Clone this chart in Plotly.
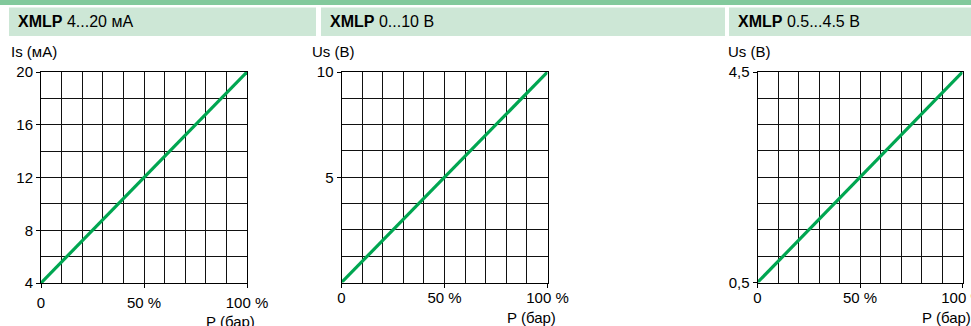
import plotly.graph_objects as go

# pressure range, % of full scale
pressure_pct = [0, 100]
# output signals for each sensor variant
current_ma = [4, 20]
voltage_0_10 = [0, 10]
voltage_05_45 = [0.5, 4.5]

panel_titles = ["4...20 мА", "0...10 В", "0.5...4.5 В"]
y_titles = ["Is (мА)", "Us (В)", "Us (В)"]
x_tickvals = [0, 50, 100]
x_ticktext = ["0", "50 %", "100 %"]

W, H = 971, 326
GREEN = "#00a651"
GRID = "#111111"
FONT = "Liberation Sans, Arial, sans-serif"


def px_x(v):
    return v / W


def px_y(v):
    return 1 - v / H


# plot areas in pixels: (left, right, top, bottom)
areas = [(41, 247, 72, 283), (341.5, 547.5, 72, 282.5), (757.5, 962.5, 72, 282.5)]
# header boxes: (left, right)
headers = [(9, 316), (321, 725), (729, 971)]
# the first chart has its x labels a bit lower, like the source
x_standoff = [2, -3, -3]
xlabel_y = [321, 317.5, 317.5]

y_specs = [
    dict(range=[4, 20], tickvals=[4, 8, 12, 16, 20], ticktext=["4", "8", "12", "16", "20"], tick0=4, dtick=2),
    dict(range=[0, 10], tickvals=[5, 10], ticktext=["5", "10"], tick0=0, dtick=1.25),
    dict(range=[0.5, 4.5], tickvals=[0.5, 4.5], ticktext=["0,5", "4,5"], tick0=0.5, dtick=0.5),
]
series = [current_ma, voltage_0_10, voltage_05_45]

fig = go.Figure()
layout = dict(
    template="none",
    width=W,
    height=H,
    margin=dict(l=0, r=0, t=0, b=0, pad=0),
    plot_bgcolor="white",
    paper_bgcolor="white",
    showlegend=False,
    font=dict(family=FONT, size=15, color="black"),
)

shapes = [
    dict(type="rect", xref="paper", yref="paper", x0=0, x1=1, y0=px_y(5), y1=1,
         fillcolor="#82c99c", line_width=0, layer="below"),
]
annotations = []

for i, (area, ys, spec) in enumerate(zip(areas, series, y_specs)):
    n = "" if i == 0 else str(i + 1)
    left, right, top, bottom = area
    fig.add_trace(go.Scatter(
        x=pressure_pct, y=ys, mode="lines",
        line=dict(color=GREEN, width=3.2),
        xaxis="x" + n, yaxis="y" + n, hoverinfo="skip",
    ))
    layout["xaxis" + n] = dict(
        domain=[px_x(left), px_x(right)], anchor="y" + n, range=[0, 100],
        tickvals=x_tickvals, ticktext=x_ticktext, ticks="outside", ticklen=4,
        tickcolor="black", showline=True, linecolor="black", mirror=True,
        showgrid=True, gridcolor=GRID, gridwidth=1, zeroline=False,
        minor=dict(tick0=0, dtick=10, showgrid=True, gridcolor=GRID, gridwidth=1, ticks=""),
        ticklabelstandoff=x_standoff[i], ticklabeloverflow="allow",
        automargin=False, fixedrange=True,
    )
    layout["yaxis" + n] = dict(
        domain=[px_y(bottom), px_y(top)], anchor="x" + n, range=spec["range"],
        tickvals=spec["tickvals"], ticktext=spec["ticktext"], ticks="outside", ticklen=4,
        tickcolor="black", showline=True, linecolor="black", mirror=True,
        showgrid=True, gridcolor=GRID, gridwidth=1, zeroline=False,
        minor=dict(tick0=spec["tick0"], dtick=spec["dtick"], showgrid=True,
                   gridcolor=GRID, gridwidth=1, ticks=""),
        ticklabeloverflow="allow", automargin=False, fixedrange=True,
    )

    hl, hr = headers[i]
    shapes.append(dict(type="rect", xref="paper", yref="paper", x0=px_x(hl), x1=px_x(hr),
                       y0=px_y(36), y1=px_y(7.5), fillcolor="#cde7d6", line_width=0, layer="below"))
    annotations.append(dict(
        xref="paper", yref="paper", x=px_x(hl + 7), y=px_y(21.5), xanchor="left", yanchor="middle",
        text="<b>XMLP</b> " + panel_titles[i], showarrow=False,
        font=dict(family="Liberation Sans Narrow, Arial Narrow, Liberation Sans", size=16),
    ))
    annotations.append(dict(
        xref="paper", yref="paper", x=px_x(left - 32), y=px_y(52), xanchor="left", yanchor="middle",
        text=y_titles[i], showarrow=False,
    ))
    annotations.append(dict(
        xref="paper", yref="paper", x=px_x(right + 10), y=px_y(xlabel_y[i]), xanchor="right",
        yanchor="middle", text="P (бар)", showarrow=False,
    ))

layout["shapes"] = shapes
layout["annotations"] = annotations
fig.update_layout(**layout)
# the page's default 8px body margin would push the figure off the window
fig.write_html(
    "out.html",
    config={"displayModeBar": False},
    post_script="document.body.style.margin = '0';",
)
